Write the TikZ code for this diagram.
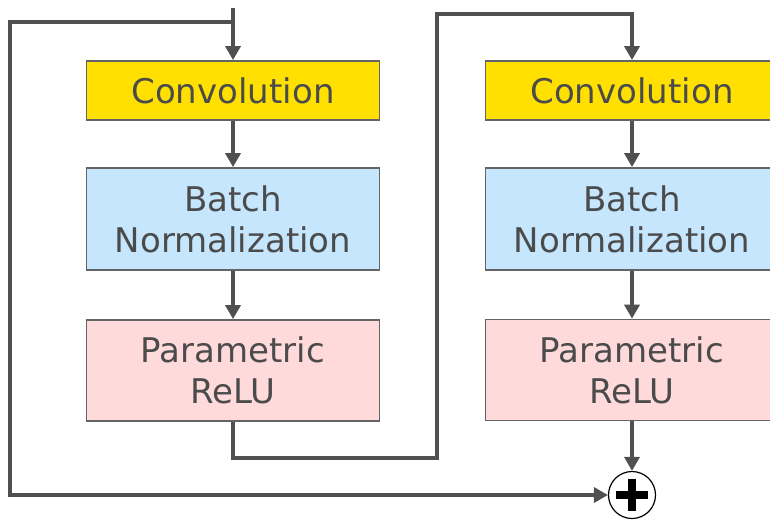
\documentclass[tikz,border=0pt]{standalone}
\usepackage{fontspec}
\setmainfont{DejaVu Sans}
\usetikzlibrary{arrows.meta}

\definecolor{convyellow}{RGB}{255,224,0}
\definecolor{bnblue}{RGB}{197,230,252}
\definecolor{relupink}{RGB}{255,218,218}
\definecolor{wire}{RGB}{80,80,80}
\definecolor{boxline}{RGB}{100,100,100}
\definecolor{textgray}{RGB}{75,75,75}

\tikzset{
  layer/.style={draw=boxline, line width=1.8pt, minimum width=293pt, align=center,
    text=textgray, font=\fontsize{34}{41}\selectfont, inner sep=0pt},
  convbox/.style={layer, fill=convyellow, minimum height=59pt},
  bnbox/.style={layer, fill=bnblue, minimum height=102pt},
  relubox/.style={layer, fill=relupink, minimum height=101pt},
  wire/.style={draw=wire, line width=4pt},
  arr/.style={wire, -{Triangle[width=15pt,length=14pt]}},
}

\begin{document}
\begin{tikzpicture}[x=1pt,y=-1pt]
    \useasboundingbox (0,0) rectangle (770,520);

    % first block
    \node[convbox] (conv1) at (233,90.5) {Convolution};
    \node[bnbox] (bn1) at (233,219) {Batch\\Normalization};
    \node[relubox] (prelu1) at (233,370.5) {Parametric\\ReLU};

    % second block
    \node[convbox] (conv2) at (632,90.5) {Convolution};
    \node[bnbox] (bn2) at (632,219) {Batch\\Normalization};
    \node[relubox] (prelu2) at (632,370) {Parametric\\ReLU};

    % addition
    \node[circle, draw=black, line width=1.2pt, minimum size=47pt, inner sep=0pt] (plus) at (632,495) {};
    \draw[line width=8pt] (plus.center) ++(-16,0) -- ++(32,0);
    \draw[line width=8pt] (plus.center) ++(0,-16) -- ++(0,32);

    \coordinate (in) at (233,8);
    \coordinate (split) at (233,22);
    \coordinate (skip) at (10,495);
    \coordinate (bot) at (437,458);
    \coordinate (top2) at (437,14);

    \draw[arr] (in) -- (conv1.north);
    \draw[arr] (conv1) -- (bn1);
    \draw[arr] (bn1) -- (prelu1);
    \draw[arr] (prelu1.south) |- (bot) -- (top2) -| (conv2.north);
    \draw[arr] (conv2) -- (bn2);
    \draw[arr] (bn2) -- (prelu2);
    \draw[arr] (prelu2) -- (plus);
    \draw[arr] (split) -| (skip) -- (plus.west);
\end{tikzpicture}
\end{document}
